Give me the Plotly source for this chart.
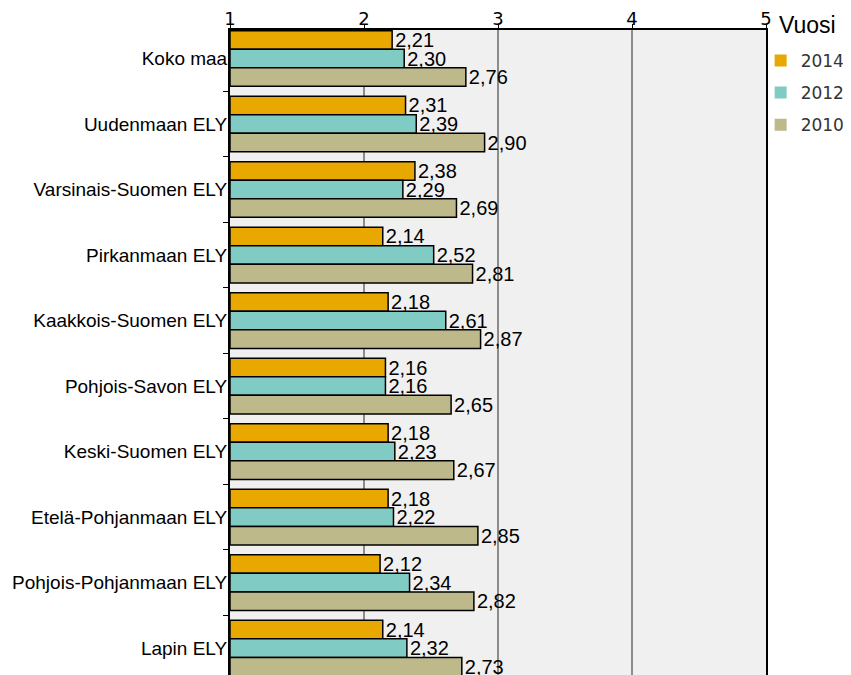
import plotly.graph_objects as go

categories = ["Koko maa", "Uudenmaan ELY", "Varsinais-Suomen ELY", "Pirkanmaan ELY",
              "Kaakkois-Suomen ELY", "Pohjois-Savon ELY", "Keski-Suomen ELY",
              "Etelä-Pohjanmaan ELY", "Pohjois-Pohjanmaan ELY", "Lapin ELY"]
v2014 = [2.21, 2.31, 2.38, 2.14, 2.18, 2.16, 2.18, 2.18, 2.12, 2.14]
v2012 = [2.30, 2.39, 2.29, 2.52, 2.61, 2.16, 2.23, 2.22, 2.34, 2.32]
v2010 = [2.76, 2.90, 2.69, 2.81, 2.87, 2.65, 2.67, 2.85, 2.82, 2.73]
series = [("2014", v2014, "#E8A800"), ("2012", v2012, "#80CCC4"), ("2010", v2010, "#BDB98A")]
BASE = 1

fig = go.Figure()
for name, vals, col in series:
    fig.add_trace(go.Bar(
        y=categories, x=[v - BASE for v in vals], base=BASE, orientation="h", name=name,
        legendgroup=name, showlegend=False,
        marker=dict(color=col, line=dict(color="black", width=1.5)),
        text=[f"{v:.2f}".replace(".", ",") for v in vals], textposition="outside",
        constraintext="none",
        textfont=dict(family="Liberation Sans", size=20, color="black"),
        cliponaxis=False,
    ))
# legend swatches (borderless squares, as in the reference)
for name, vals, col in series:
    fig.add_trace(go.Scatter(
        x=[None], y=[None], mode="markers", name=name, legendgroup=name,
        marker=dict(symbol="square", size=12, color=col, line=dict(width=0)),
    ))

fig.add_annotation(text="Vuosi", xref="paper", yref="paper", x=1.02, y=1.008,
                   xanchor="left", yanchor="middle", showarrow=False,
                   font=dict(family="Liberation Sans", size=23, color="black"))

fig.update_layout(
    width=843, height=667, barmode="group", bargap=0.15, bargroupgap=0,
    margin=dict(l=222, r=85, t=22, b=0, autoexpand=False),
    plot_bgcolor="#F0F0F0", paper_bgcolor="white",
    font=dict(family="Liberation Sans", color="black"),
    legend=dict(x=0.99, xanchor="left", y=0.98, yanchor="top",
                font=dict(family="DejaVu Sans", size=17, color="#333"),
                tracegroupgap=7, itemwidth=30, bgcolor="rgba(0,0,0,0)"),
    xaxis=dict(side="top", range=[1, 5], tickvals=[1, 2, 3, 4, 5], showgrid=True,
               gridcolor="#8C8C8C", gridwidth=2, zeroline=False, automargin=False,
               showline=True, linecolor="black", linewidth=2, mirror=True,
               ticks="outside", ticklen=4, tickcolor="black", ticklabelstandoff=-8,
               tickfont=dict(family="DejaVu Sans", size=18, color="black")),
    yaxis=dict(range=[9.41, -0.435], autorange=False, tickson="boundaries", automargin=False,
               ticks="outside", ticklen=5, tickcolor="black", ticklabelstandoff=-3,
               showline=True, linecolor="black", linewidth=2, mirror=True,
               tickfont=dict(family="Liberation Sans", size=19, color="black"),
               showgrid=False),
)
fig.write_html("out.html")
